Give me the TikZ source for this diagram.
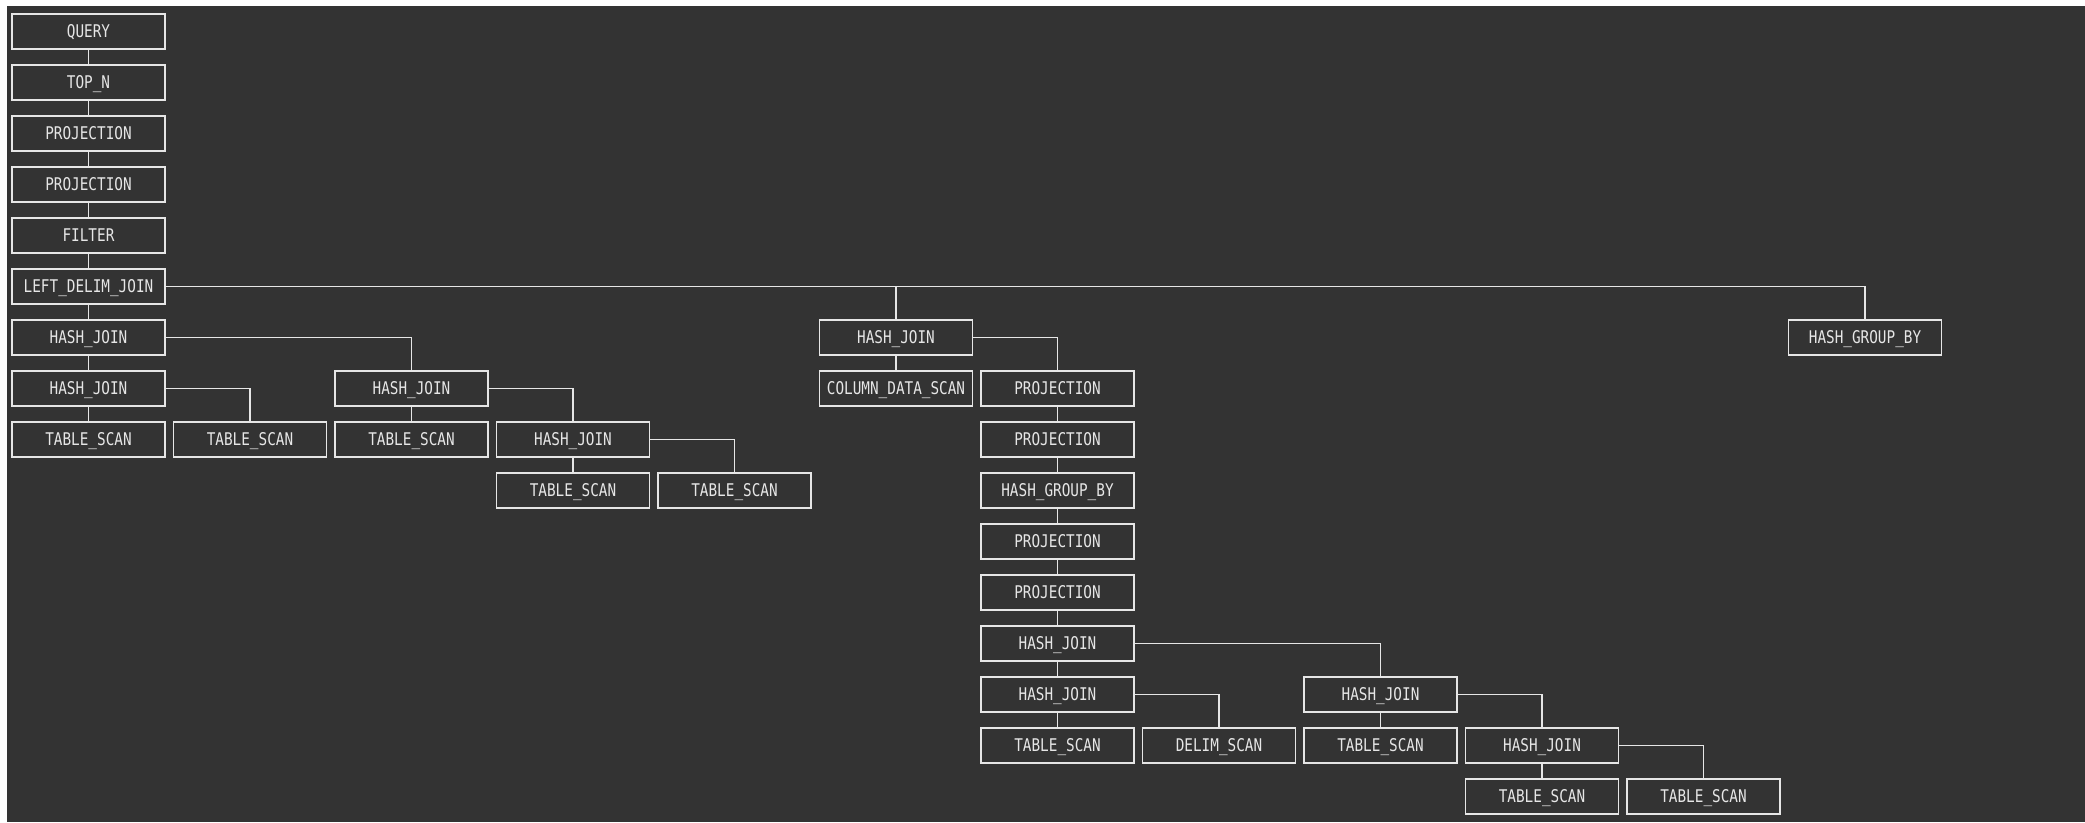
\documentclass[tikz,border=0pt]{standalone}
\usepackage{fontspec}
\newfontfamily\planfont[FakeStretch=0.82]{DejaVu Sans Mono}
\definecolor{bgdark}{HTML}{333333}
\definecolor{fg}{HTML}{E6E6E6}
\begin{document}
\begin{tikzpicture}[x=1pt,y=-1pt,
  op/.style={draw=fg, line width=1.2pt, fill=bgdark, text=fg, minimum width=153pt, minimum height=35pt, inner sep=0pt, text height=12.2pt, text depth=0pt, font=\planfont\fontsize{17.5}{20}\selectfont},
  edge/.style={draw=fg, line width=1.2pt}]
\useasboundingbox (0,0) rectangle (2085,822);
\fill[white] (0,0) rectangle (2085,822);
\fill[bgdark] (7,6) rectangle (2085,822);
\def\cx#1{\fpeval{88.5+161.5*#1}}
\def\cy#1{\fpeval{31.5+51*#1}}
\newcommand\opnode[4]{\node[op] (#1) at (\cx{#3},\cy{#2}) {#4};}
\opnode{q}{0}{0}{QUERY}
\opnode{topn}{1}{0}{TOP\_N}
\opnode{pa}{2}{0}{PROJECTION}
\opnode{pb}{3}{0}{PROJECTION}
\opnode{filt}{4}{0}{FILTER}
\opnode{ldj}{5}{0}{LEFT\_DELIM\_JOIN}
\opnode{hja}{6}{0}{HASH\_JOIN}
\opnode{hjb}{7}{0}{HASH\_JOIN}
\opnode{tsa}{8}{0}{TABLE\_SCAN}
\opnode{tsb}{8}{1}{TABLE\_SCAN}
\opnode{hjc}{7}{2}{HASH\_JOIN}
\opnode{tsc}{8}{2}{TABLE\_SCAN}
\opnode{hjd}{8}{3}{HASH\_JOIN}
\opnode{tsd}{9}{3}{TABLE\_SCAN}
\opnode{tse}{9}{4}{TABLE\_SCAN}
\opnode{hje}{6}{5}{HASH\_JOIN}
\opnode{cds}{7}{5}{COLUMN\_DATA\_SCAN}
\opnode{pc}{7}{6}{PROJECTION}
\opnode{pd}{8}{6}{PROJECTION}
\opnode{hgba}{9}{6}{HASH\_GROUP\_BY}
\opnode{pe}{10}{6}{PROJECTION}
\opnode{pf}{11}{6}{PROJECTION}
\opnode{hjf}{12}{6}{HASH\_JOIN}
\opnode{hjg}{13}{6}{HASH\_JOIN}
\opnode{tsf}{14}{6}{TABLE\_SCAN}
\opnode{dls}{14}{7}{DELIM\_SCAN}
\opnode{hjh}{13}{8}{HASH\_JOIN}
\opnode{tsg}{14}{8}{TABLE\_SCAN}
\opnode{hji}{14}{9}{HASH\_JOIN}
\opnode{tsh}{15}{9}{TABLE\_SCAN}
\opnode{tsi}{15}{10}{TABLE\_SCAN}
\opnode{hgbb}{6}{11}{HASH\_GROUP\_BY}
% vertical connectors
\foreach \a/\b in {q/topn,topn/pa,pa/pb,pb/filt,filt/ldj,ldj/hja,hja/hjb,hjb/tsa,hjc/tsc,hjd/tsd,hje/cds,pc/pd,pd/hgba,hgba/pe,pe/pf,pf/hjf,hjf/hjg,hjg/tsf,hjh/tsg,hji/tsh}
  \draw[edge] (\a.south) -- (\b.north);
% elbow connectors
\foreach \a/\b in {ldj/hje,ldj/hgbb,hja/hjc,hjb/tsb,hjc/hjd,hjd/tse,hje/pc,hjf/hjh,hjg/dls,hjh/hji,hji/tsi}
  \draw[edge] (\a.east) -| (\b.north);
\end{tikzpicture}
\end{document}
